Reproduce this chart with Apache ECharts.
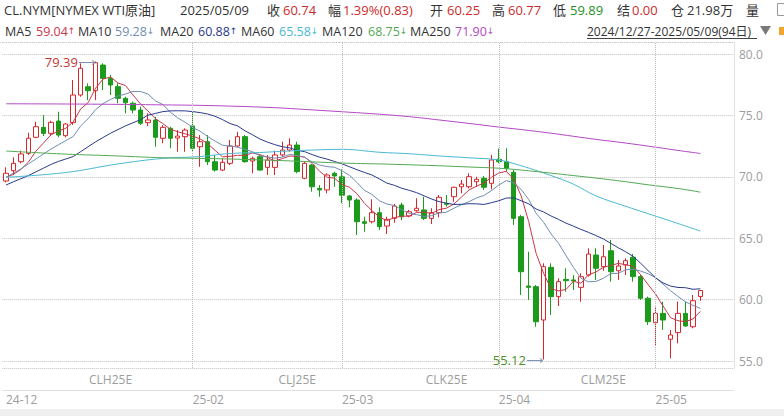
<!DOCTYPE html>
<html><head><meta charset="utf-8">
<script src="https://cdn.jsdelivr.net/npm/echarts@6/dist/echarts.min.js"></script>
<style>html,body{margin:0;padding:0;background:#fff;}#c{width:784px;height:416px;}</style>
</head><body><div id="c"></div>
<script>
const dates = [
'2024-12-27','2024-12-30','2024-12-31',
'2025-01-02','2025-01-03','2025-01-06','2025-01-07','2025-01-08','2025-01-09','2025-01-10','2025-01-13','2025-01-14','2025-01-15','2025-01-16','2025-01-17','2025-01-20','2025-01-21','2025-01-22','2025-01-23','2025-01-24','2025-01-27','2025-01-28','2025-01-29','2025-01-30','2025-01-31',
'2025-02-03','2025-02-04','2025-02-05','2025-02-06','2025-02-07','2025-02-10','2025-02-11','2025-02-12','2025-02-13','2025-02-14','2025-02-17','2025-02-18','2025-02-19','2025-02-20','2025-02-21','2025-02-24','2025-02-25','2025-02-26','2025-02-27','2025-02-28',
'2025-03-03','2025-03-04','2025-03-05','2025-03-06','2025-03-07','2025-03-10','2025-03-11','2025-03-12','2025-03-13','2025-03-14','2025-03-17','2025-03-18','2025-03-19','2025-03-20','2025-03-21','2025-03-24','2025-03-25','2025-03-26','2025-03-27','2025-03-28','2025-03-31',
'2025-04-01','2025-04-02','2025-04-03','2025-04-04','2025-04-07','2025-04-08','2025-04-09','2025-04-10','2025-04-11','2025-04-14','2025-04-15','2025-04-16','2025-04-17','2025-04-21','2025-04-22','2025-04-23','2025-04-24','2025-04-25','2025-04-28','2025-04-29','2025-04-30',
'2025-05-01','2025-05-02','2025-05-05','2025-05-06','2025-05-07','2025-05-08','2025-05-09'];
const padCats = ['p1','p2','p3','p4'];

const open = [69.66,70.50,71.23,71.91,73.22,74.03,73.54,74.54,73.35,74.41,76.66,77.34,77.01,79.10,78.02,77.34,76.39,75.99,75.44,74.41,74.63,73.14,73.95,73.16,73.27,74.14,72.45,72.86,71.23,70.55,71.10,72.51,73.27,71.29,71.64,70.77,70.77,71.78,72.18,72.59,69.88,70.96,69.06,68.93,70.29,70.00,68.44,68.11,66.34,66.34,67.08,65.99,66.62,67.70,66.81,67.24,67.30,66.62,67.08,67.84,68.38,69.19,69.19,69.60,69.88,69.47,71.43,71.23,70.37,66.75,61.11,61.05,58.34,62.63,60.24,61.65,61.60,61.00,62.00,63.63,62.68,63.98,62.35,62.82,63.45,61.87,60.11,58.12,58.88,56.77,57.31,58.88,57.79,60.25];
const close = [70.29,71.10,71.86,73.14,74.08,73.54,74.44,73.40,74.30,76.66,78.84,77.01,79.29,78.02,77.48,76.39,76.03,75.44,74.36,74.63,73.22,74.03,73.14,73.32,73.81,72.32,72.86,71.23,70.55,71.18,72.51,73.27,71.23,71.51,70.55,71.37,71.78,72.18,72.59,70.42,71.10,69.19,68.93,70.15,70.07,68.50,68.11,66.34,66.21,67.08,65.94,66.54,67.62,66.75,67.16,67.44,66.62,67.08,68.33,67.76,69.15,69.41,70.01,69.80,69.15,71.37,71.23,70.69,66.62,62.27,61.00,58.20,62.68,60.24,61.46,61.54,61.52,61.87,63.71,62.55,63.49,62.27,62.74,63.17,61.87,60.11,58.20,58.88,58.34,57.12,58.88,57.85,59.91,60.74];
const low = [69.55,70.15,71.10,71.78,73.14,73.32,73.32,73.22,73.22,74.22,76.52,76.25,76.25,77.07,76.66,75.99,75.17,75.17,74.22,74.14,72.45,72.73,72.32,72.04,72.04,72.04,70.82,70.96,70.42,70.47,70.96,72.40,71.15,70.29,70.50,70.15,70.15,71.64,72.04,70.29,69.80,68.79,68.38,68.66,69.19,67.85,67.52,65.26,65.53,66.21,65.67,65.34,66.26,66.48,66.70,67.16,66.48,66.16,66.70,67.57,67.97,68.66,69.06,69.19,68.93,68.98,71.10,70.42,66.08,60.38,59.97,57.79,55.12,58.75,59.48,60.64,60.78,59.83,61.87,61.60,62.35,61.46,61.60,62.00,61.46,59.97,57.93,56.30,57.53,55.22,56.44,57.79,57.66,59.89];
const high = [70.77,71.59,72.13,73.59,74.49,75.03,74.57,75.30,74.36,77.88,79.24,77.61,79.39,79.24,78.29,77.61,76.52,76.12,75.71,75.17,74.89,74.22,74.08,73.81,73.95,75.30,73.40,73.40,71.78,71.51,73.00,73.67,73.40,71.64,71.83,71.78,72.13,72.86,73.14,72.86,71.23,71.04,69.33,70.29,70.42,70.60,68.52,68.25,66.75,68.17,67.52,66.75,67.79,67.89,67.30,68.25,68.38,67.44,68.52,68.52,69.19,69.74,70.29,70.01,70.07,71.78,72.30,72.32,70.55,66.89,63.90,61.19,62.96,62.96,61.74,62.55,62.00,62.14,64.18,64.18,64.45,64.85,63.23,63.36,63.71,62.00,60.24,59.42,59.83,57.53,59.83,59.83,60.38,60.77];

const ma5 = [69.95,70.20,70.60,71.20,72.09,72.74,73.41,73.72,73.95,74.47,75.53,76.04,77.22,77.96,78.13,77.64,77.44,76.67,75.94,75.37,74.74,74.34,73.88,73.67,73.50,73.32,73.09,72.71,72.15,71.63,71.67,71.75,71.75,71.94,71.81,71.59,71.29,71.48,71.69,71.67,71.61,71.10,70.45,69.96,69.89,69.37,69.15,68.63,67.85,67.25,66.74,66.42,66.68,66.79,66.80,67.10,67.12,67.01,67.33,67.45,67.79,68.35,68.93,69.23,69.50,69.95,70.31,70.45,69.81,68.44,66.36,63.76,62.15,60.88,60.72,60.82,61.49,61.33,62.02,62.24,62.63,62.78,62.95,62.84,62.71,62.03,61.22,60.45,59.48,58.53,58.28,58.21,58.42,59.04];
const ma10 = [69.95,70.30,70.65,71.05,71.45,71.85,72.25,72.60,72.95,73.28,74.14,74.73,75.47,75.96,76.30,76.58,76.74,76.95,76.95,76.75,76.19,75.89,75.27,74.80,74.44,74.03,73.71,73.29,72.91,72.57,72.50,72.42,72.23,72.05,71.72,71.63,71.52,71.61,71.82,71.74,71.60,71.19,70.96,70.83,70.78,70.49,70.12,69.54,68.90,68.57,68.05,67.79,67.66,67.32,67.03,66.92,66.77,66.84,67.06,67.12,67.45,67.73,67.97,68.28,68.48,68.87,69.33,69.69,69.52,68.97,68.16,67.03,66.30,65.35,64.58,63.59,62.62,61.74,61.45,61.48,61.73,62.13,62.14,62.43,62.47,62.33,62.10,61.80,61.26,60.72,60.26,59.82,59.53,59.28];
const ma20 = [69.33,69.60,69.85,70.10,70.40,70.70,71.00,71.25,71.45,71.65,72.05,72.45,72.85,73.20,73.55,73.85,74.15,74.40,74.65,75.02,75.16,75.31,75.37,75.38,75.37,75.31,75.23,75.12,74.93,74.66,74.34,74.15,73.75,73.43,73.08,72.83,72.62,72.45,72.36,72.15,72.05,71.81,71.60,71.44,71.25,71.06,70.82,70.58,70.36,70.15,69.83,69.49,69.31,69.07,68.90,68.71,68.45,68.19,67.98,67.85,67.75,67.76,67.81,67.80,67.75,67.89,68.05,68.27,68.29,68.05,67.80,67.38,67.14,66.81,66.53,66.23,65.98,65.72,65.48,65.22,64.94,64.58,64.22,63.89,63.52,62.96,62.36,61.77,61.36,61.10,60.99,60.97,60.84,60.88];

// long moving averages read at sampled sessions
const longMaIdx = [0,8,15,21,26,30,34,37,41,45,50,54,58,62,66,69,73,76,79,83,86,90,93];
const ma60  = [69.96,70.35,71.05,71.50,71.65,71.90,71.98,72.08,72.18,72.24,72.00,71.88,71.70,71.55,71.37,70.90,70.10,69.40,68.45,67.60,67.00,66.20,65.58];
const ma120 = [72.10,71.85,71.70,71.55,71.50,71.45,71.38,71.32,71.22,71.12,71.05,70.98,70.90,70.80,70.70,70.55,70.30,70.10,69.90,69.60,69.35,69.05,68.75];
const ma250 = [75.95,75.93,75.90,75.86,75.82,75.76,75.68,75.60,75.45,75.30,75.10,74.90,74.63,74.35,74.05,73.85,73.55,73.30,73.05,72.75,72.50,72.15,71.90];

const maNames = ['MA5','MA10','MA20','MA60','MA120','MA250'];
const maLast  = [59.04, 59.28, 60.88, 65.58, 68.75, 71.90];
const maTrend = ['↑','↓','↑','↓','↓','↓'];
const maColors = ['#c8374a','#6f8db3','#2a3a8c','#49b9d2','#54a954','#b348c4'];

const yTicks = [55, 60, 65, 70, 75, 80];
const monthTickDates  = ['2024-12-27','2025-02-03','2025-03-03','2025-04-01','2025-05-01'];
const monthTickLabels = ['24-12','25-02','25-03','25-04','25-05'];
const contractDates  = ['2025-01-17','2025-02-21','2025-03-21','2025-04-22'];
const contractLabels = ['CLH25E','CLJ25E','CLK25E','CLM25E'];
const prevClose = 59.91;
const settle = 0.00;
const openInterest = '21.98万';

const FONT = '"Open Sans","Noto Sans CJK SC",sans-serif';
const RED = '#cc2b2b', GREEN = '#1f8f1f', DARK = '#333333';

const cats = dates.concat(padCats);
const n = dates.length;
const kData = dates.map((d, i) => [open[i], close[i], low[i], high[i]]);
const longSeries = arr => longMaIdx.map((k, j) => [dates[k], arr[j]]);

const lastC = close[n-1], chg = lastC - prevClose;
const row1 = [
  [4, 'CL.NYM[NYMEX WTI原油]', DARK],
  [180, dates[n-1].replace(/-/g,'/'), DARK],
  [267, '收', DARK], [283, lastC.toFixed(2), RED],
  [328, '幅', DARK], [343, (chg/prevClose*100).toFixed(2) + '%(' + chg.toFixed(2) + ')', RED],
  [430, '开', DARK], [447, open[n-1].toFixed(2), RED],
  [492, '高', DARK], [508, high[n-1].toFixed(2), RED],
  [553, '低', DARK], [570, low[n-1].toFixed(2), GREEN],
  [617, '结', DARK], [632, settle.toFixed(2), RED],
  [671, '仓', DARK], [687, openInterest, DARK],
  [746, '量', DARK]
];
const row2x = [[5,36],[78,115],[160,198],[241,279],[322,368],[410,455]];
const graphics = [];
row1.forEach(r => graphics.push({type:'text', x:r[0], y:10, style:{text:r[1], fill:r[2], fontSize:13, fontFamily:FONT, verticalAlign:'middle'}}));
maNames.forEach((m, k) => {
  graphics.push({type:'text', x:row2x[k][0], y:31, style:{text:m, fill:DARK, fontSize:12.5, fontFamily:FONT, verticalAlign:'middle'}});
  graphics.push({type:'text', x:row2x[k][1], y:31, style:{
    text:'{v|' + maLast[k].toFixed(2) + '}{a|' + maTrend[k] + '}', verticalAlign:'middle',
    rich:{v:{fill:maColors[k], fontSize:12.5, fontFamily:FONT}, a:{fill:maColors[k], fontSize:9, fontFamily:'DejaVu Sans'}}}});
});
graphics.push({type:'text', x:587, y:31, style:{text:dates[0].replace(/-/g,'/') + '-' + dates[n-1].replace(/-/g,'/') + '(' + n + '日)', fill:DARK, fontSize:12, fontFamily:FONT, verticalAlign:'middle'}});
graphics.push({type:'line', shape:{x1:587, y1:38.5, x2:757, y2:38.5}, style:{stroke:'#444', lineWidth:1}});
graphics.push({type:'polygon', shape:{points:[[760,26],[771,26],[765.5,35]]}, style:{fill:'#7a7a7a'}});
graphics.push({type:'rect', shape:{x:779, y:27, width:6, height:8}, style:{fill:'#f2a52e'}});
graphics.push({type:'rect', shape:{x:777.5, y:3.5, width:9, height:12}, style:{fill:'#fff', stroke:'#9a9a9a', lineWidth:1}});
graphics.push({type:'line', shape:{x1:0, y1:42.5, x2:734, y2:42.5}, style:{stroke:'#cfcfcf', lineWidth:1, lineDash:[1,2]}});
graphics.push({type:'rect', shape:{x:0, y:409, width:784, height:7}, style:{fill:'#efefef'}});

const chart = echarts.init(document.getElementById('c'), null, {renderer:'svg'});
const lineSeries = (name, data, color, smooth) => ({
  name, type:'line', data, symbol:'none', showSymbol:false, smooth: smooth || false,
  lineStyle:{width:1, color}, itemStyle:{color}, silent:true, z:3
});

chart.setOption({
  animation:false,
  backgroundColor:'#ffffff',
  grid:{left:2.26, right:50, top:42, bottom:48},
  xAxis:[
    {type:'category', data:cats, boundaryGap:true,
     axisLine:{show:false}, axisTick:{show:false}, splitLine:{show:false},
     axisLabel:{interval:(i, v) => contractDates.indexOf(v) >= 0,
       formatter:v => { const k = contractDates.indexOf(v); return k >= 0 ? contractLabels[k] : ''; },
       color:'#9c9c9c', fontSize:12, fontFamily:FONT, margin:5, hideOverlap:false}},
    {type:'category', data:cats, boundaryGap:true, position:'bottom', offset:22,
     axisLine:{show:true, lineStyle:{color:'#e2e2e2'}}, axisTick:{show:false}, splitLine:{show:false},
     axisLabel:{interval:(i, v) => monthTickDates.indexOf(v) >= 0,
       formatter:v => { const k = monthTickDates.indexOf(v); return k >= 0 ? monthTickLabels[k] : ''; },
       align:'left', color:'#9c9c9c', fontSize:12, fontFamily:FONT, margin:3, hideOverlap:false}}
  ],
  yAxis:{type:'value', position:'right', min:54.43, max:80.98, splitNumber:5,
    axisLine:{show:true, lineStyle:{color:'#e2e2e2'}}, axisTick:{show:false},
    axisLabel:{customValues:yTicks, formatter:v => v.toFixed(1), color:'#9c9c9c', fontSize:12, fontFamily:FONT, margin:5},
    splitLine:{show:true, lineStyle:{color:'#c2c2c2', type:'dotted', width:1}}},
  graphic:graphics,
  series:[
    {name:'K', type:'candlestick', data:kData, barWidth:5, z:2,
     itemStyle:{color:'#ffffff', color0:'#1c9a1c', borderColor:'#d6282b', borderColor0:'#1c9a1c', borderWidth:1},
     markPoint:{symbol:'circle', symbolSize:1, itemStyle:{color:'rgba(0,0,0,0)'}, silent:true,
       data:[
         {type:'max', valueDim:'highest', label:{show:true, position:'left', distance:0,
            formatter:p => '{v|' + p.value.toFixed(2) + '}{a|⟶}',
            rich:{v:{color:'#c8342f', fontSize:13, fontFamily:FONT}, a:{color:'#7f93b8', fontSize:12, fontFamily:'DejaVu Sans'}}}},
         {type:'min', valueDim:'lowest', label:{show:true, position:'left', distance:0,
            formatter:p => '{v|' + p.value.toFixed(2) + '}{a|⟶}',
            rich:{v:{color:'#4e8f2a', fontSize:13, fontFamily:FONT}, a:{color:'#7f93b8', fontSize:12, fontFamily:'DejaVu Sans'}}}}
       ]},
     markLine:{symbol:['none','none'], silent:true, label:{show:false},
       lineStyle:{color:'#bdbdbd', type:'dotted', width:1},
       data:monthTickDates.slice(1).map(d => ({xAxis:d}))}
    },
    lineSeries('MA5', ma5, maColors[0]),
    lineSeries('MA10', ma10, maColors[1]),
    lineSeries('MA20', ma20, maColors[2]),
    lineSeries('MA60', longSeries(ma60), maColors[3], 0.4),
    lineSeries('MA120', longSeries(ma120), maColors[4], 0.4),
    lineSeries('MA250', longSeries(ma250), maColors[5], 0.4)
  ]
});
</script>
</body></html>
